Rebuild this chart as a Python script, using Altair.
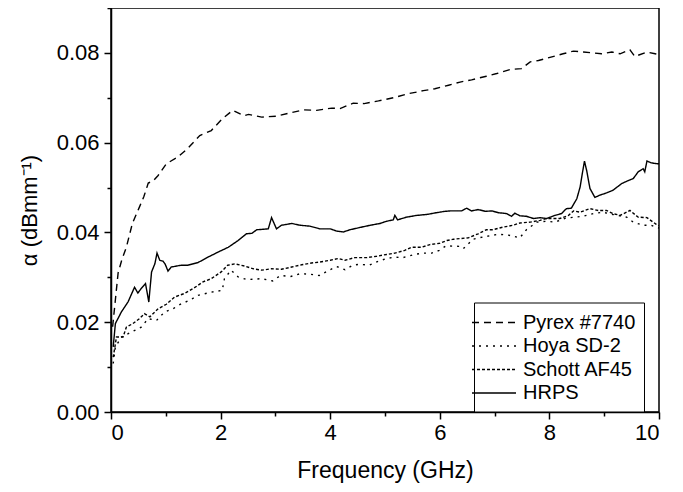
import altair as alt
import pandas as pd

series_names = ["Pyrex #7740", "Hoya SD-2", "Schott AF45", "HRPS"]

pyrex_x = [0.03, 0.08, 0.13, 0.2, 0.28, 0.39, 0.52, 0.60, 0.68, 0.77, 0.86, 1.01, 1.22, 1.40, 1.62, 1.83,
           2.03, 2.22, 2.43, 2.51, 2.75, 3.02, 3.26, 3.51, 3.75, 4.03, 4.18, 4.42, 4.62, 4.88, 5.15, 5.42,
           5.63, 5.70, 5.91, 6.16, 6.37, 6.58, 6.85, 7.04, 7.28, 7.49, 7.65, 7.80, 8.01, 8.25, 8.44, 8.62,
           8.80, 8.95, 9.14, 9.29, 9.47, 9.56, 9.78, 9.93, 10.0]
pyrex_y = [0.019, 0.025, 0.031, 0.034, 0.0367, 0.042, 0.0457, 0.048, 0.051, 0.0515, 0.0527, 0.0553, 0.0568,
           0.0587, 0.0616, 0.0627, 0.0653, 0.0672, 0.066, 0.0663, 0.0657, 0.0659, 0.0666, 0.0673, 0.0672,
           0.0677, 0.0676, 0.0688, 0.0687, 0.0693, 0.0700, 0.0709, 0.0714, 0.0716, 0.0720, 0.0728, 0.0735,
           0.0740, 0.0748, 0.0754, 0.0763, 0.0765, 0.0780, 0.0783, 0.0790, 0.0798, 0.0804, 0.0802, 0.0800,
           0.0798, 0.0802, 0.0798, 0.0807, 0.0792, 0.0802, 0.0798, 0.0795]

hoya_x = [0.04, 0.08, 0.19, 0.37, 0.55, 0.68, 0.83, 0.98, 1.13, 1.28, 1.44, 1.59, 1.83, 2.03, 2.07, 2.19,
          2.32, 2.48, 2.75, 2.95, 3.09, 3.28, 3.45, 3.63, 3.80, 3.98, 4.12, 4.27, 4.41, 4.54, 4.71, 4.88,
          5.03, 5.18, 5.33, 5.54, 5.69, 5.85, 5.99, 6.11, 6.37, 6.43, 6.61, 6.79, 7.07, 7.25, 7.46, 7.58,
          7.77, 7.95, 8.10, 8.30, 8.61, 8.80, 8.98, 9.16, 9.41, 9.53, 9.71, 9.86, 9.95, 10.0]
hoya_y = [0.0108, 0.0145, 0.0167, 0.0178, 0.0189, 0.0208, 0.0204, 0.0223, 0.0230, 0.0241, 0.0249, 0.0260,
          0.0267, 0.0271, 0.0297, 0.0316, 0.0301, 0.0295, 0.0297, 0.0292, 0.0304, 0.0302, 0.0308, 0.0307,
          0.0304, 0.0316, 0.0324, 0.0317, 0.0327, 0.0329, 0.0327, 0.0336, 0.0342, 0.0345, 0.0344, 0.0351,
          0.0354, 0.0354, 0.0360, 0.0370, 0.0369, 0.0364, 0.0385, 0.0390, 0.0396, 0.0394, 0.0388, 0.0406,
          0.0423, 0.0425, 0.0423, 0.0432, 0.0436, 0.0442, 0.0445, 0.0440, 0.0434, 0.0423, 0.0416, 0.0416,
          0.0411, 0.0410]

schott_x = [0.04, 0.10, 0.22, 0.28, 0.40, 0.52, 0.61, 0.71, 0.86, 1.01, 1.16, 1.34, 1.50, 1.68, 1.83, 2.01,
            2.13, 2.26, 2.44, 2.60, 2.75, 2.93, 3.11, 3.30, 3.48, 3.66, 3.81, 4.00, 4.15, 4.27, 4.45, 4.67,
            4.85, 5.03, 5.18, 5.36, 5.48, 5.67, 5.82, 6.00, 6.13, 6.25, 6.52, 6.70, 6.85, 6.97, 7.16, 7.34,
            7.46, 7.65, 7.83, 7.95, 8.19, 8.35, 8.44, 8.56, 8.74, 8.89, 9.04, 9.16, 9.29, 9.47, 9.62, 9.78,
            9.95, 10.0]
schott_y = [0.0122, 0.0167, 0.0167, 0.0189, 0.0197, 0.0208, 0.0219, 0.0212, 0.0230, 0.0240, 0.0256, 0.0264,
            0.0275, 0.0290, 0.0297, 0.0312, 0.0327, 0.0330, 0.0325, 0.0319, 0.0316, 0.0319, 0.0318, 0.0323,
            0.0328, 0.0332, 0.0334, 0.0338, 0.0342, 0.0338, 0.0344, 0.0344, 0.0347, 0.0351, 0.0354, 0.0360,
            0.0367, 0.0367, 0.0373, 0.0376, 0.0382, 0.0385, 0.0388, 0.0397, 0.0406, 0.0406, 0.0412, 0.0416,
            0.0421, 0.0423, 0.0427, 0.0431, 0.0431, 0.0438, 0.0448, 0.0445, 0.0453, 0.0449, 0.0449, 0.0442,
            0.0438, 0.0449, 0.0434, 0.0433, 0.0418, 0.0415]

hrps_x = [0.04, 0.08, 0.19, 0.31, 0.43, 0.49, 0.55, 0.63, 0.69, 0.74, 0.80, 0.84, 0.89, 0.95, 0.99, 1.04,
          1.10, 1.28, 1.40, 1.59, 1.77, 1.95, 2.14, 2.32, 2.47, 2.57, 2.66, 2.87, 2.93, 3.02, 3.11, 3.30,
          3.45, 3.63, 3.81, 4.00, 4.12, 4.24, 4.36, 4.54, 4.73, 4.91, 5.03, 5.15, 5.18, 5.23, 5.39, 5.58,
          5.76, 5.94, 6.09, 6.19, 6.40, 6.49, 6.58, 6.70, 6.83, 6.95, 7.07, 7.22, 7.31, 7.37, 7.46, 7.58,
          7.71, 7.83, 7.95, 8.10, 8.22, 8.31, 8.40, 8.50, 8.56, 8.61, 8.64, 8.68, 8.74, 8.83, 8.92, 9.04,
          9.16, 9.32, 9.41, 9.53, 9.62, 9.71, 9.74, 9.78, 9.86, 9.97, 10.0]
hrps_y = [0.0145, 0.0197, 0.0223, 0.0245, 0.0278, 0.0265, 0.0275, 0.0286, 0.0245, 0.0312, 0.0330, 0.0354,
          0.0338, 0.0336, 0.0329, 0.0314, 0.0323, 0.0327, 0.0327, 0.0333, 0.0345, 0.0356, 0.0367, 0.0382,
          0.0397, 0.0398, 0.0406, 0.0408, 0.0433, 0.0408, 0.0416, 0.0420, 0.0416, 0.0414, 0.0408, 0.0408,
          0.0403, 0.0401, 0.0406, 0.0411, 0.0416, 0.0420, 0.0425, 0.0428, 0.0438, 0.0428, 0.0434, 0.0438,
          0.0440, 0.0444, 0.0447, 0.0448, 0.0448, 0.0454, 0.0448, 0.0451, 0.0447, 0.0448, 0.0444, 0.0442,
          0.0436, 0.0443, 0.0437, 0.0436, 0.0431, 0.0433, 0.0431, 0.0438, 0.0442, 0.0453, 0.0454, 0.0475,
          0.0501, 0.0538, 0.0559, 0.0538, 0.0498, 0.0478, 0.0483, 0.0488, 0.0494, 0.0509, 0.0514, 0.0520,
          0.0535, 0.0542, 0.0535, 0.0559, 0.0555, 0.0553, 0.0553]

x_ticks = list(range(0, 11))
y_ticks = [round(0.01 * i, 2) for i in range(0, 10)]

rows = []
for name, xs, ys in [(series_names[0], pyrex_x, pyrex_y), (series_names[1], hoya_x, hoya_y),
                     (series_names[2], schott_x, schott_y), (series_names[3], hrps_x, hrps_y)]:
    for i, (a, b) in enumerate(zip(xs, ys)):
        rows.append({"series": name, "f": a, "alpha": b, "order": i})
df = pd.DataFrame(rows)

FONT = "Liberation Sans"

chart = alt.Chart(df).mark_line(color="black", strokeWidth=1.4, clip=True).encode(
    x=alt.X("f:Q", scale=alt.Scale(domain=[0, 10], nice=False),
            axis=alt.Axis(values=x_ticks, title="Frequency (GHz)",
                          labelExpr="datum.value % 2 === 0 ? datum.label : ''",
                          tickSize={"condition": {"test": "datum.value % 2 === 0", "value": 7}, "value": 4},
                          labelPadding=3, titlePadding=16, titleFontSize=23)),
    y=alt.Y("alpha:Q", scale=alt.Scale(domain=[0, 0.09], nice=False),
            axis=alt.Axis(values=y_ticks, title="α (dBmm⁻¹)", format=".2f",
                          labelExpr="round(datum.value*100) % 2 === 0 ? datum.label : ''",
                          tickSize={"condition": {"test": "round(datum.value*100) % 2 === 0", "value": 7}, "value": 4},
                          labelPadding=5, titlePadding=15, titleFontSize=22)),
    strokeDash=alt.StrokeDash("series:N",
                              scale=alt.Scale(domain=series_names,
                                              range=[[7, 5], [2, 5], [3, 2], [1, 0]]),
                              legend=alt.Legend(title=None, orient="none", legendX=363, legendY=294.5,
                                                strokeColor="black", fillColor="white",
                                                padding=8,
                                                symbolType="M-2,0H2", symbolSize=484,
                                                symbolStrokeWidth=1.4, symbolStrokeColor="black",
                                                labelFontSize=20, labelFont=FONT, labelColor="black",
                                                labelOffset=17, rowPadding=1.5)),
    order="order:Q",
).properties(
    width=548, height=404,
    background="white",
    autosize=alt.AutoSizeParams(type="none"),
    padding={"left": 103, "top": 0, "right": 16, "bottom": 72},
).configure_view(
    stroke="black", strokeWidth=1.5
).configure_axis(
    domainColor="black", domainWidth=1.5, tickColor="black", tickWidth=1.5,
    labelColor="black", titleColor="black", labelFont=FONT, titleFont=FONT,
    labelFontSize=22, titleFontWeight="normal", grid=False
)

chart.save("out.html", embed_options={"renderer": "svg", "actions": False})
